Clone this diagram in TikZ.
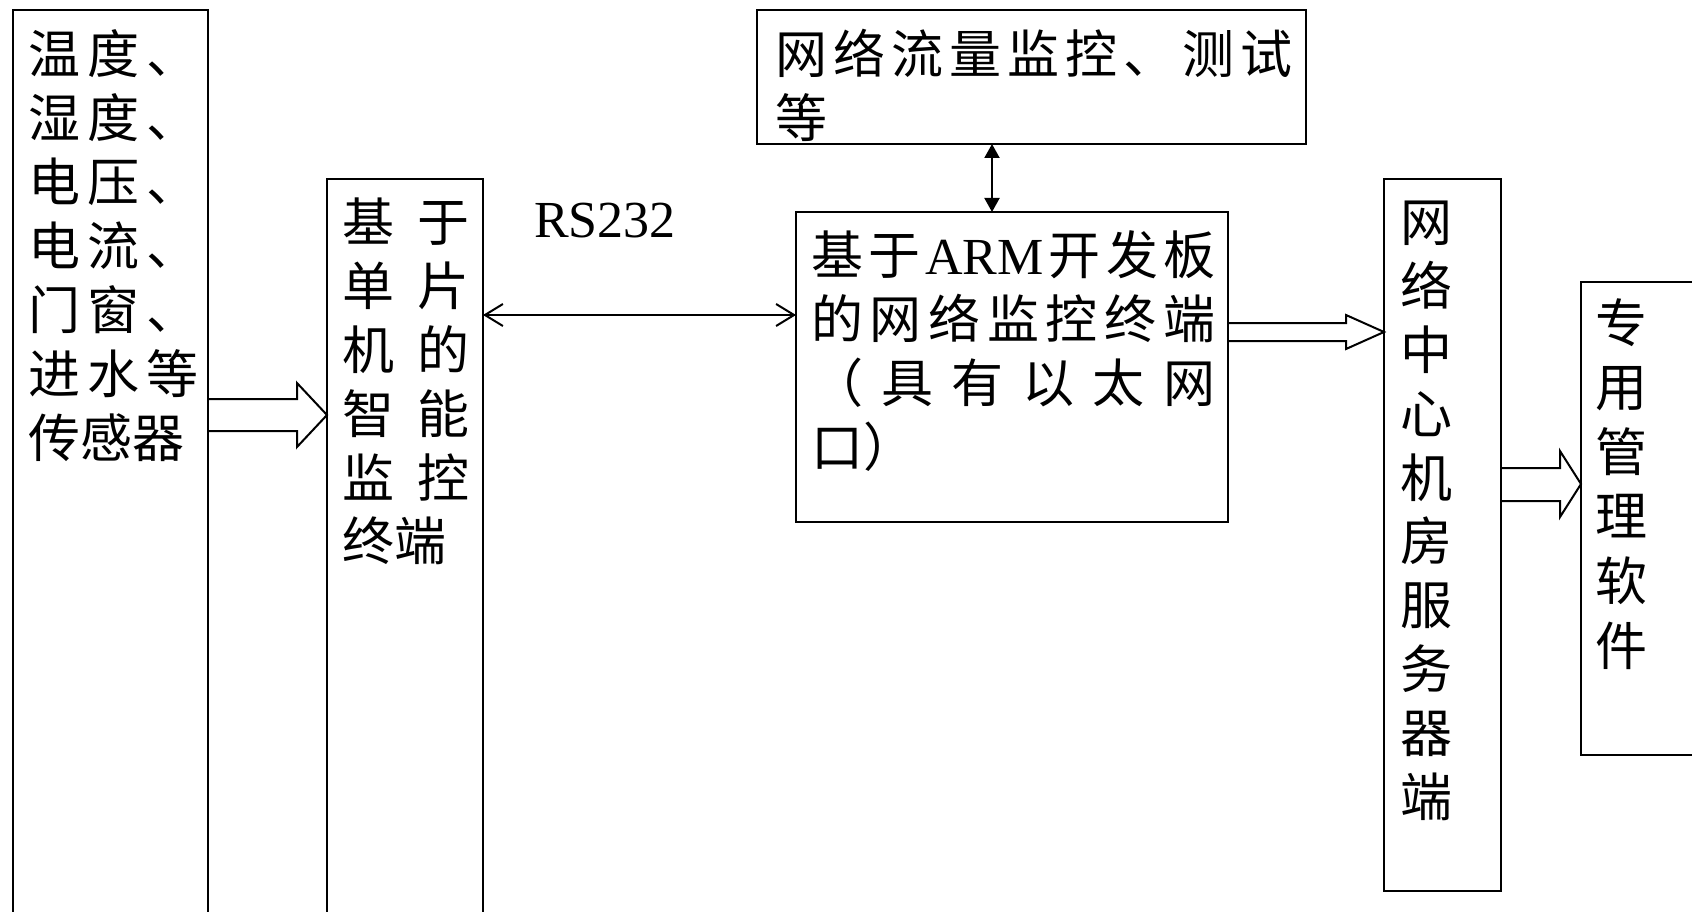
\documentclass[tikz,border=0pt]{standalone}
\usepackage{fontspec}
\setmainfont{Noto Sans CJK SC}
\newfontfamily\lat{Liberation Serif}
\usetikzlibrary{arrows.meta,calc}
\tikzset{
  box/.style={draw, line width=2pt, anchor=north west, inner sep=0pt, outer sep=0pt},
  txt/.style={anchor=base west, inner sep=0pt, align=left, font=\fontsize{52}{64}\selectfont},
  barrow/.style={draw, line width=2pt, line join=miter},
  rsarrow/.style={line width=2pt, {Straight Barb[length=18pt,width=22pt]}-{Straight Barb[length=18pt,width=22pt]}},
  vtarrow/.style={line width=2pt, {Triangle[length=14pt,width=15pt]}-{Triangle[length=14pt,width=15pt]}},
}
\begin{document}
\begin{tikzpicture}[x=1pt,y=-1pt]
\useasboundingbox (0,0) rectangle (1692,912);
\clip (0,0) rectangle (1692,912);
\fill[white] (0,0) rectangle (1692,912);
% boxes
\node[box, minimum width=195pt, minimum height=930pt] (sens) at (13,10) {};
\node[box, minimum width=156pt, minimum height=760pt] (mcu) at (327,179) {};
\node[box, minimum width=549pt, minimum height=134pt] (net) at (757,10) {};
\node[box, minimum width=432pt, minimum height=310pt] (arm) at (796,212) {};
\node[box, minimum width=117pt, minimum height=712pt] (srv) at (1384,179) {};
\node[box, minimum width=150pt, minimum height=473pt] (sw) at (1581,282) {};
% texts
\node[txt, text width=172pt] (senst) at (28,74) {%
\makebox[170pt][l]{温\hfill 度\hfill 、}\\
\makebox[170pt][l]{湿\hfill 度\hfill 、}\\
\makebox[170pt][l]{电\hfill 压\hfill 、}\\
\makebox[170pt][l]{电\hfill 流\hfill 、}\\
\makebox[170pt][l]{门\hfill 窗\hfill 、}\\
\makebox[170pt][l]{进\hfill 水\hfill 等}\\
传感器};
\node[txt, text width=130pt] (mcut) at (342,241) {%
\makebox[127pt][l]{基\hfill 于}\\
\makebox[127pt][l]{单\hfill 片}\\
\makebox[127pt][l]{机\hfill 的}\\
\makebox[127pt][l]{智\hfill 能}\\
\makebox[127pt][l]{监\hfill 控}\\
终端};
\node[txt, text width=520pt] (nett) at (775,74) {%
\makebox[517pt][l]{网\hfill 络\hfill 流\hfill 量\hfill 监\hfill 控\hfill 、\hfill 测\hfill 试}\\
等};
\node[txt, text width=406pt] (armt) at (811,274) {%
\makebox[404pt][l]{基\hfill 于\hfill {\lat ARM}\hfill 开\hfill 发\hfill 板}\\
\makebox[404pt][l]{的\hfill 网\hfill 络\hfill 监\hfill 控\hfill 终\hfill 端}\\
\makebox[404pt][l]{（\hfill 具\hfill 有\hfill 以\hfill 太\hfill 网}\\
口）};
\node[txt, text width=60pt] (srvt) at (1400,241) {网\\络\\中\\心\\机\\房\\服\\务\\器\\端};
\node[txt, text width=60pt, font=\fontsize{52}{64.6}\selectfont] (swt) at (1595,342) {专\\用\\管\\理\\软\\件};
\node[anchor=base west, inner sep=0pt, font=\lat\fontsize{52}{60}\selectfont] (rs) at (534,238) {RS232};
% connectors
\draw[rsarrow] (mcu.east |- 0,315) -- (arm.west |- 0,315);
\draw[vtarrow] (net.south -| 992,0) -- (arm.north -| 992,0);
% block arrows
\draw[barrow] (sens.east |- 0,399) -- ($(mcu.west |- 0,399)+(-30,0)$) -- ($(mcu.west |- 0,383)+(-30,0)$)
  -- (mcu.west |- 0,415) -- ($(mcu.west |- 0,447)+(-30,0)$) -- ($(mcu.west |- 0,431)+(-30,0)$) -- (sens.east |- 0,431);
\draw[barrow] (arm.east |- 0,323) -- ($(srv.west |- 0,323)+(-38,0)$) -- ($(srv.west |- 0,315)+(-38,0)$)
  -- (srv.west |- 0,332) -- ($(srv.west |- 0,349)+(-38,0)$) -- ($(srv.west |- 0,341)+(-38,0)$) -- (arm.east |- 0,341);
\draw[barrow] (srv.east |- 0,468) -- ($(sw.west |- 0,468)+(-21,0)$) -- ($(sw.west |- 0,451)+(-21,0)$)
  -- (sw.west |- 0,484) -- ($(sw.west |- 0,517)+(-21,0)$) -- ($(sw.west |- 0,501)+(-21,0)$) -- (srv.east |- 0,501);
\end{tikzpicture}
\end{document}
